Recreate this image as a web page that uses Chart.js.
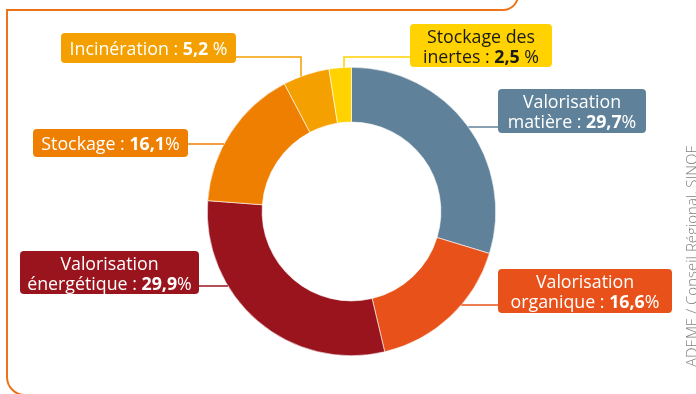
<!DOCTYPE html>
<html lang="fr">
<head>
<meta charset="utf-8">
<title>Traitement des déchets</title>
<script src="https://cdn.jsdelivr.net/npm/chart.js"></script>
<style>
    html, body { margin: 0; padding: 0; background: #fff; }
    #donut-chart { display: block; }
</style>
</head>
<body>
<canvas id="donut-chart" width="696" height="394"></canvas>
<script>
    'use strict';

    // parts of each treatment route, in %
    const categories = ['Valorisation matière', 'Valorisation organique', 'Valorisation énergétique',
        'Stockage', 'Incinération', 'Stockage des inertes'];
    const shares = [29.7, 16.6, 29.9, 16.1, 5.2, 2.5];

    // text of the callouts (the value is appended in bold)
    const labelLines = [
        ['Valorisation', 'matière : '],
        ['Valorisation', 'organique : '],
        ['Valorisation', 'énergétique : '],
        ['Stockage : '],
        ['Incinération : '],
        ['Stockage des', 'inertes : ']
    ];
    const percentSigns = ['%', '%', '%', '%', ' %', ' %'];
    const sourceText = 'ADEME / Conseil Régional, SINOE';

    const sliceColors = ['#5F8199', '#E8521A', '#9A141E', '#EE7F00', '#F4A000', '#FFD200'];
    const textColors = ['#fff', '#fff', '#fff', '#fff', '#fff', '#1a1a1a'];
    const FONT = '"Open Sans", "Noto Sans", sans-serif';

    // orange frame + source line
    const framePlugin = {
        id: 'frame',
        beforeDraw(chart) {
            const ctx = chart.ctx;
            ctx.save();
            ctx.strokeStyle = '#EE7219';
            ctx.lineWidth = 2;
            ctx.beginPath();
            ctx.moveTo(518, -6);
            ctx.arc(503, -5, 15, 0, Math.PI / 2);
            ctx.lineTo(7, 10);
            ctx.lineTo(7, 377);
            ctx.arc(25, 377, 18, Math.PI, Math.PI / 2, true);
            ctx.lineTo(700, 395);
            ctx.stroke();

            ctx.translate(697, 367);
            ctx.rotate(-Math.PI / 2);
            ctx.fillStyle = '#808080';
            ctx.font = '300 15px ' + FONT;
            ctx.textAlign = 'left';
            ctx.textBaseline = 'alphabetic';
            ctx.fillText(sourceText, 0, 0);
            ctx.restore();
        }
    };

    // boxes with leader lines running to the ring
    const calloutPlugin = {
        id: 'callouts',
        afterDatasetsDraw(chart, args, opts) {
            const ctx = chart.ctx;
            const arcs = chart.getDatasetMeta(0).data;
            const values = chart.data.datasets[0].data;

            opts.boxes.forEach((box, i) => {
                const arc = arcs[i];
                const r = arc.outerRadius;
                const color = sliceColors[i];

                ctx.save();
                ctx.strokeStyle = color;
                ctx.lineWidth = 1.5;
                ctx.beginPath();
                if (box.elbowX !== undefined) {
                    const dx = box.elbowX - arc.x;
                    const yEdge = arc.y - Math.sqrt(r * r - dx * dx);
                    const startX = box.x > box.elbowX ? box.x : box.x + box.w;
                    ctx.moveTo(startX, box.lineY);
                    ctx.lineTo(box.elbowX, box.lineY);
                    ctx.lineTo(box.elbowX, yEdge);
                } else {
                    const dy = box.lineY - arc.y;
                    const dx = Math.sqrt(r * r - dy * dy);
                    const onRight = box.x > arc.x;
                    ctx.moveTo(onRight ? box.x : box.x + box.w, box.lineY);
                    ctx.lineTo(onRight ? arc.x + dx : arc.x - dx, box.lineY);
                }
                ctx.stroke();

                ctx.fillStyle = color;
                ctx.beginPath();
                ctx.roundRect(box.x, box.y, box.w, box.h, 4);
                ctx.fill();

                // text lines, the value in bold on the last one
                const lines = labelLines[i];
                const valueText = values[i].toFixed(1).replace('.', ',');
                const regular = '17.8px ' + FONT;
                const bold = '700 17.8px ' + FONT;
                const cx = box.x + box.w / 2;
                ctx.fillStyle = textColors[i];
                ctx.textAlign = 'left';
                ctx.textBaseline = 'alphabetic';
                lines.forEach((line, k) => {
                    let parts = [{t: line, f: regular}];
                    if (k === lines.length - 1) {
                        parts.push({t: valueText, f: bold}, {t: percentSigns[i], f: regular});
                    }
                    let total = 0;
                    parts.forEach(p => {
                        ctx.font = p.f;
                        p.w = ctx.measureText(p.t).width;
                        total += p.w;
                    });
                    let y = lines.length === 1 ? box.y + box.h / 2 + 6.5 : box.y + 19 + k * 20;
                    let x = cx - total / 2;
                    parts.forEach(p => {
                        ctx.font = p.f;
                        ctx.fillText(p.t, x, y);
                        x += p.w;
                    });
                });
                ctx.restore();
            });
        }
    };

    const donutData = {
        labels: categories,
        datasets: [
            {
                data: shares,
                backgroundColor: sliceColors,
                borderColor: '#ffffff',
                borderWidth: 0.6
            }
        ]
    };

    const donutConfig = {
        type: 'doughnut',
        data: donutData,
        options: {
            responsive: false,
            animation: false,
            events: [],
            cutout: '62%',
            rotation: 0,
            layout: {
                padding: {left: 207, top: 67, right: 200, bottom: 38}
            },
            plugins: {
                legend: {display: false},
                tooltip: {enabled: false},
                callouts: {
                    boxes: [
                        {x: 498, y: 89, w: 148, h: 44, lineY: 127},
                        {x: 498, y: 269, w: 174, h: 44, lineY: 305},
                        {x: 20, y: 251, w: 179, h: 43, lineY: 286},
                        {x: 33, y: 129, w: 155, h: 28, lineY: 144},
                        {x: 61, y: 33, w: 175, h: 30, lineY: 57, elbowX: 301},
                        {x: 410, y: 24, w: 142, h: 43, lineY: 57, elbowX: 344}
                    ]
                }
            }
        },
        plugins: [framePlugin, calloutPlugin]
    };

    new Chart(document.getElementById('donut-chart').getContext('2d'), donutConfig);
</script>
</body>
</html>
